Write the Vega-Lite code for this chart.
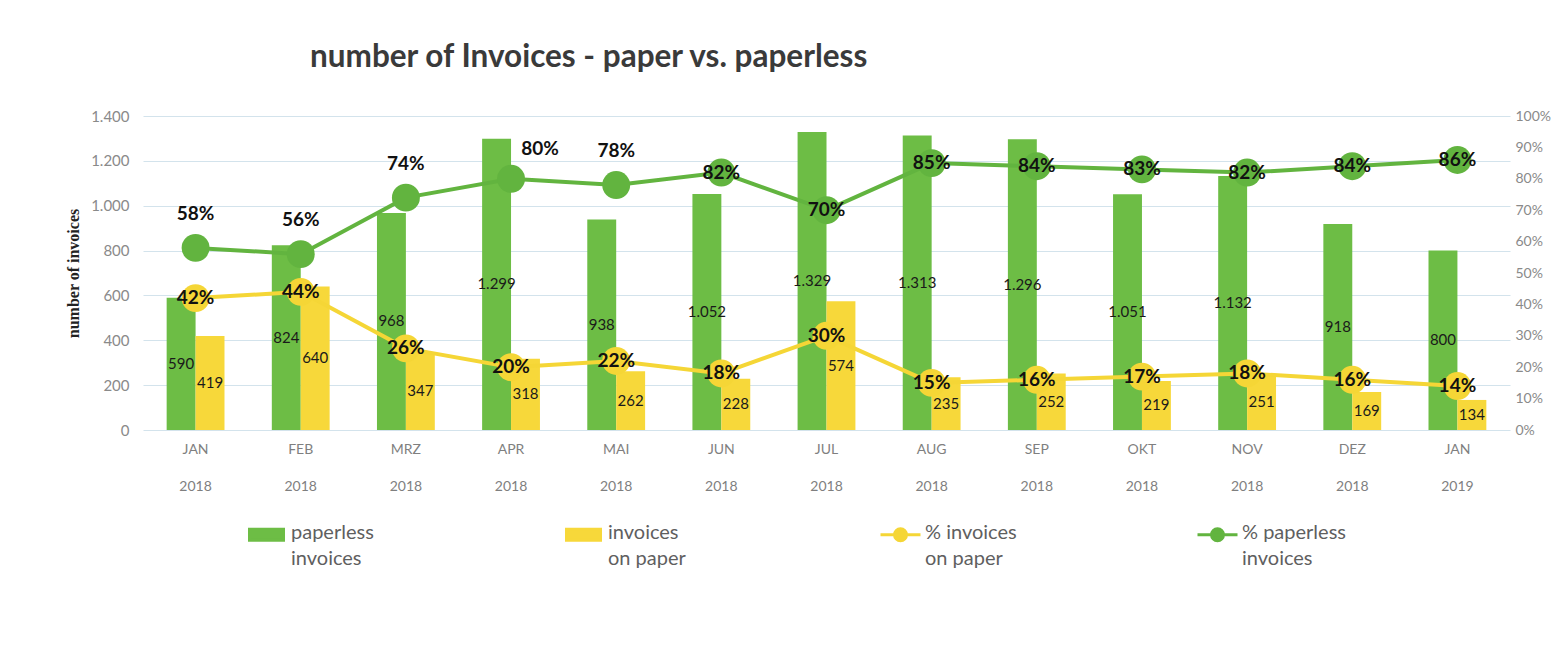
{
  "$schema": "https://vega.github.io/schema/vega-lite/v6.json",
  "autosize": {"type": "none"},
  "width": 1367,
  "height": 314,
  "padding": {"left": 143, "top": 116, "right": 46, "bottom": 215},
  "background": "white",
  "config": {
    "locale": {"number": {"decimal": ",", "thousands": ".", "grouping": [3], "currency": ["", " €"]}},
    "view": {"stroke": null},
    "font": "Lato"
  },
  "title": {
    "text": "number of Invoices - paper vs. paperless",
    "anchor": "start",
    "frame": "group",
    "dx": 167,
    "offset": 36,
    "fontSize": 31.5,
    "fontWeight": "bold",
    "color": "#3a3a3a",
    "font": "Lato"
  },
  "data": {
    "values": [
      {"month": "JAN 2018", "paperless": 590, "paper": 419, "pct_paperless": 0.58, "pct_paper": 0.42},
      {"month": "FEB 2018", "paperless": 824, "paper": 640, "pct_paperless": 0.56, "pct_paper": 0.44},
      {"month": "MRZ 2018", "paperless": 968, "paper": 347, "pct_paperless": 0.74, "pct_paper": 0.26},
      {"month": "APR 2018", "paperless": 1299, "paper": 318, "pct_paperless": 0.80, "pct_paper": 0.20},
      {"month": "MAI 2018", "paperless": 938, "paper": 262, "pct_paperless": 0.78, "pct_paper": 0.22},
      {"month": "JUN 2018", "paperless": 1052, "paper": 228, "pct_paperless": 0.82, "pct_paper": 0.18},
      {"month": "JUL 2018", "paperless": 1329, "paper": 574, "pct_paperless": 0.70, "pct_paper": 0.30},
      {"month": "AUG 2018", "paperless": 1313, "paper": 235, "pct_paperless": 0.85, "pct_paper": 0.15},
      {"month": "SEP 2018", "paperless": 1296, "paper": 252, "pct_paperless": 0.84, "pct_paper": 0.16},
      {"month": "OKT 2018", "paperless": 1051, "paper": 219, "pct_paperless": 0.83, "pct_paper": 0.17},
      {"month": "NOV 2018", "paperless": 1132, "paper": 251, "pct_paperless": 0.82, "pct_paper": 0.18},
      {"month": "DEZ 2018", "paperless": 918, "paper": 169, "pct_paperless": 0.84, "pct_paper": 0.16},
      {"month": "JAN 2019", "paperless": 800, "paper": 134, "pct_paperless": 0.86, "pct_paper": 0.14}
    ]
  },
  "encoding": {
    "x": {
      "field": "month",
      "type": "nominal",
      "sort": null,
      "scale": {"paddingInner": 0.45, "paddingOuter": 0.225},
      "axis": {
        "title": null,
        "labelExpr": "split(datum.label, ' ')",
        "labelColor": "#7f7f7f",
        "labelFontSize": 14,
        "labelFont": "Lato",
        "labelLineHeight": 37,
        "labelPadding": 12,
        "labelBaseline": "top",
        "labelAngle": 0,
        "ticks": false,
        "domain": false
      }
    }
  },
  "layer": [
    {
      "transform": [{"fold": ["paperless", "paper"], "as": ["series", "value"]}],
      "mark": {"type": "bar"},
      "encoding": {
        "xOffset": {"field": "series", "type": "nominal", "sort": ["paperless", "paper"], "scale": {"paddingInner": 0, "paddingOuter": 0}},
        "y": {
          "field": "value",
          "type": "quantitative",
          "scale": {"domain": [0, 1400], "nice": false, "zero": true},
          "axis": {
            "title": "number of invoices",
            "titleFont": "Liberation Serif",
            "titleFontSize": 16,
            "titleFontWeight": "bold",
            "titleColor": "#222222",
            "titlePadding": 9,
            "values": [0, 200, 400, 600, 800, 1000, 1200, 1400],
            "format": ",d",
            "labelColor": "#8a8a8a",
            "labelFontSize": 15,
            "labelFont": "Lato",
            "labelPadding": 14,
            "ticks": false,
            "domain": false,
            "grid": true,
            "gridColor": "#d3e3ec",
            "gridWidth": 1.2
          }
        },
        "color": {
          "field": "series",
          "type": "nominal",
          "scale": {
            "domain": ["paperless", "paper", "pct_paper", "pct_paperless"],
            "range": ["#6dbd45", "#f7d83a", "#f5d636", "#62b43f"]
          },
          "legend": {
            "orient": "none",
            "legendX": 102,
            "legendY": 397,
            "direction": "horizontal",
            "columns": 4,
            "title": null,
            "gridAlign": "all",
            "columnPadding": 162,
            "labelExpr": "datum.value == 'paperless' ? ['paperless', 'invoices'] : datum.value == 'paper' ? ['invoices', ' on paper'] : datum.value == 'pct_paper' ? ['% invoices', 'on paper'] : ['% paperless', 'invoices']",
            "labelFontSize": 20,
            "labelFont": "Lato",
            "labelColor": "#5f5f5f",
            "labelLimit": 300,
            "labelOffset": 3,
            "labelBaseline": "top",
            "symbolSize": 1600,
            "encode": {
              "symbols": {
                "update": {
                  "shape": {"signal": "datum.value == 'paperless' || datum.value == 'paper' ? 'M-0.85,-0.28H0.85V0.28H-0.85Z' : 'M-1,0L1,0M-0.3,0A0.3,0.3,0,1,0,0.3,0A0.3,0.3,0,1,0,-0.3,0Z'"},
                  "fill": {"scale": "color", "field": "value"},
                  "stroke": {"scale": "color", "field": "value"},
                  "strokeWidth": {"value": 3},
                  "opacity": {"value": 1},
                  "fillOpacity": {"value": 1}
                }
              },
              "labels": {"update": {"dy": {"value": -12}, "lineHeight": {"value": 26}}}
            }
          }
        }
      }
    },
    {
      "transform": [{"fold": ["paperless", "paper"], "as": ["series", "value"]}],
      "mark": {"type": "text", "fontSize": 15, "font": "Lato", "color": "#1a1a1a"},
      "encoding": {
        "xOffset": {"field": "series", "type": "nominal", "sort": ["paperless", "paper"], "scale": {"paddingInner": 0, "paddingOuter": 0}},
        "y": {"field": "value", "type": "quantitative", "scale": {"domain": [0, 2800], "nice": false}, "axis": null},
        "text": {"field": "value", "type": "quantitative", "format": ",d"}
      }
    },
    {
      "transform": [{"fold": ["pct_paper", "pct_paperless"], "as": ["series", "value"]}],
      "mark": {"type": "line", "strokeWidth": 4},
      "encoding": {
        "y": {
          "field": "value",
          "type": "quantitative",
          "scale": {"domain": [0, 1], "nice": false},
          "axis": {
            "orient": "right",
            "title": null,
            "format": ".0%",
            "values": [0, 0.1, 0.2, 0.3, 0.4, 0.5, 0.6, 0.7, 0.8, 0.9, 1],
            "labelColor": "#8a8a8a",
            "labelFontSize": 14,
            "labelFont": "Lato",
            "labelPadding": 5,
            "ticks": false,
            "domain": false,
            "grid": false
          }
        },
        "color": {"field": "series", "type": "nominal", "legend": null}
      }
    },
    {
      "transform": [{"fold": ["pct_paper", "pct_paperless"], "as": ["series", "value"]}],
      "mark": {"type": "circle", "size": 780, "opacity": 1},
      "encoding": {
        "y": {"field": "value", "type": "quantitative", "scale": {"domain": [0, 1], "nice": false}, "axis": null},
        "color": {"field": "series", "type": "nominal", "legend": null}
      }
    },
    {
      "transform": [
        {"fold": ["pct_paper", "pct_paperless"], "as": ["series", "value"]},
        {"filter": "datum.series == 'pct_paper' || indexof(['JAN 2018', 'FEB 2018', 'MRZ 2018', 'APR 2018', 'MAI 2018'], datum.month) < 0"}
      ],
      "mark": {"type": "text", "fontSize": 19, "fontWeight": "bold", "font": "Lato", "color": "#111111"},
      "encoding": {
        "y": {"field": "value", "type": "quantitative", "scale": {"domain": [0, 1], "nice": false}, "axis": null},
        "text": {"field": "value", "type": "quantitative", "format": ".0%"}
      }
    },
    {
      "transform": [{"filter": "indexof(['JAN 2018', 'FEB 2018', 'MRZ 2018', 'MAI 2018'], datum.month) >= 0"}],
      "mark": {"type": "text", "fontSize": 19, "fontWeight": "bold", "font": "Lato", "color": "#111111", "dy": -34},
      "encoding": {
        "y": {"field": "pct_paperless", "type": "quantitative", "scale": {"domain": [0, 1], "nice": false}, "axis": null},
        "text": {"field": "pct_paperless", "type": "quantitative", "format": ".0%"}
      }
    },
    {
      "transform": [{"filter": "datum.month == 'APR 2018'"}],
      "mark": {"type": "text", "fontSize": 19, "fontWeight": "bold", "font": "Lato", "color": "#111111", "dy": -30, "dx": 29},
      "encoding": {
        "y": {"field": "pct_paperless", "type": "quantitative", "scale": {"domain": [0, 1], "nice": false}, "axis": null},
        "text": {"field": "pct_paperless", "type": "quantitative", "format": ".0%"}
      }
    }
  ],
  "resolve": {"scale": {"y": "independent"}}
}
